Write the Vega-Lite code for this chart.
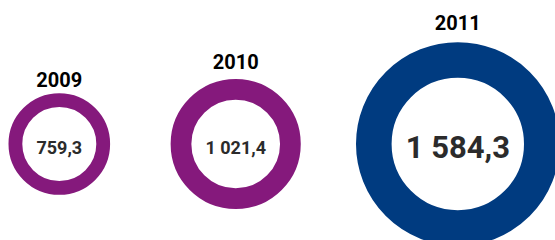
{
  "$schema": "https://vega.github.io/schema/vega-lite/v6.json",
  "width": 555,
  "height": 192,
  "autosize": {"type": "none"},
  "padding": {"top": 48, "left": 0, "right": 0, "bottom": 0},
  "background": "white",
  "config": {
    "view": {"stroke": null},
    "locale": {"number": {"decimal": ",", "thousands": " ", "grouping": [3], "currency": ["", ""]}}
  },
  "data": {"values": [
    {"year": 2009, "value": 759.3},
    {"year": 2010, "value": 1021.4},
    {"year": 2011, "value": 1584.3}
  ]},
  "encoding": {
    "x": {"field": "year", "type": "quantitative", "axis": null,
          "scale": {"domain": [2009, 2010, 2011], "range": [59.3, 235.7, 457.8]}}
  },
  "resolve": {"scale": {"size": "independent"}},
  "layer": [
    {
      "mark": {"type": "point", "shape": "circle", "filled": false, "opacity": 1},
      "encoding": {
        "size": {"field": "value", "type": "quantitative", "legend": null,
                 "scale": {"type": "pow", "exponent": 2.5, "zero": false, "domain": [759.3, 1584.3], "range": [7709, 28224]}},
        "strokeWidth": {"field": "value", "type": "quantitative", "legend": null,
                 "scale": {"zero": false, "domain": [759.3, 1584.3], "range": [13.8, 35.6]}},
        "color": {"field": "year", "type": "nominal", "legend": null,
                  "scale": {"domain": [2009, 2010, 2011], "range": ["#85197c", "#85197c", "#003b80"]}}
      }
    },
    {
      "mark": {"type": "text", "font": "Roboto", "fontWeight": "bold", "baseline": "middle", "align": "center", "dy": 5, "color": "#2b2b2b"},
      "encoding": {
        "text": {"field": "value", "type": "quantitative", "format": ",.1f"},
        "size": {"field": "value", "type": "quantitative", "legend": null,
                 "scale": {"type": "threshold", "domain": [1300], "range": [18, 31]}}
      }
    },
    {
      "mark": {"type": "text", "font": "Roboto", "fontWeight": "bold", "baseline": "middle", "align": "center", "fontSize": 20, "color": "#000000"},
      "encoding": {
        "text": {"field": "year", "type": "nominal"},
        "y": {"field": "value", "type": "quantitative", "axis": null,
              "scale": {"zero": false, "nice": false, "domain": [-1569.2, 1233.8]}}
      }
    }
  ]
}
